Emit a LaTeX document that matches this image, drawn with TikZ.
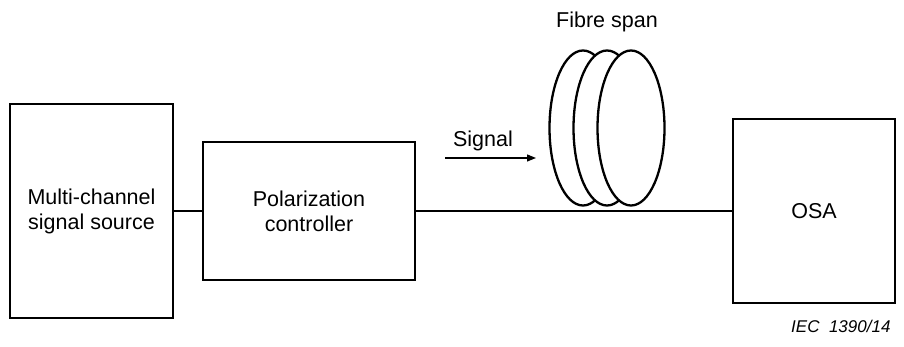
\documentclass[tikz,border=0pt]{standalone}
\usepackage{fontspec}
\setmainfont{Liberation Sans}
\usetikzlibrary{positioning, arrows.meta, shapes.geometric}
\tikzset{
    blockbox/.style={draw=black, fill=white, line width=2.6pt, inner sep=0pt, align=center},
    coilring/.style={draw=black, fill=white, ellipse, line width=2.3pt, minimum width=67pt, minimum height=155pt, inner sep=0pt},
    fibreline/.style={draw=black, line width=2.4pt},
}

\begin{document}
\begin{tikzpicture}[
    x=1pt, y=-1pt,
    >={Triangle[length=9pt, width=7pt]},
    every node/.style={font=\fontsize{21.5}{25}\selectfont},
]
\useasboundingbox (0,0) rectangle (904,347);

% blocks
\node[blockbox, minimum width=163pt, minimum height=214pt] (src) at (91.5,211) {Multi-channel\\signal source};
\node[blockbox, minimum width=212pt, minimum height=138pt] (pol) at (309,211) {Polarization\\controller};
\node[blockbox, minimum width=162pt, minimum height=184pt] (osa) at (814,211) {OSA};

% fibre connections
\draw[fibreline] (src.east) -- (pol.west);
\draw[fibreline] (pol.east) -- (osa.west);

% fibre span coils
\node[coilring] (coilA) at (583,128) {};
\node[coilring] (coilB) at (607,128) {};
\node[coilring] (coilC) at (631,128) {};
\node (span) at (607,22) {Fibre span};

% signal direction
\coordinate (sigA) at (445,158);
\coordinate (sigB) at (536,158);
\draw[->, line width=1.2pt] (sigA) -- (sigB);
\node (sig) at (483,141) {Signal};

\node[anchor=east, font=\fontsize{17}{20}\selectfont\itshape] (iec) at (894,326) {IEC\ \ 1390/14};

\end{tikzpicture}
\end{document}
